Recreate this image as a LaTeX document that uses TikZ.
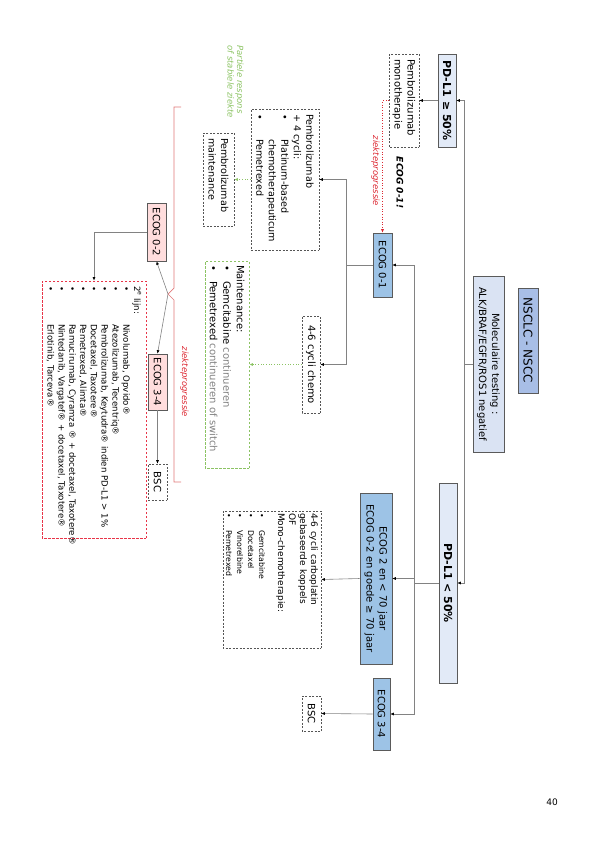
\documentclass[tikz,border=0pt]{standalone}
\usepackage{fontspec}
\setmainfont{DejaVu Sans}
\usetikzlibrary{arrows.meta}
\definecolor{nsclcfill}{RGB}{168,190,230}
\definecolor{molfill}{RGB}{218,227,243}
\definecolor{pdfill}{RGB}{226,234,247}
\definecolor{ecogblue}{RGB}{157,195,230}
\definecolor{pinkfill}{RGB}{255,221,221}
\definecolor{boxgray}{RGB}{90,90,90}
\definecolor{dashgray}{RGB}{85,85,85}
\definecolor{conngray}{RGB}{130,130,130}
\definecolor{reddash}{RGB}{232,52,72}
\definecolor{greendash}{RGB}{140,195,100}
\definecolor{redlab}{RGB}{220,40,50}
\definecolor{bracered}{RGB}{225,120,120}
\definecolor{greytext}{RGB}{130,130,130}
\newcommand\myfA{\fontsize{10}{13}\selectfont}
\newcommand\myfB{\fontsize{9.6}{12.5}\selectfont}
\newcommand\myfC{\fontsize{8.6}{10.8}\selectfont}
\newcommand\myfD{\fontsize{9}{11}\selectfont}
\newcommand\myfE{\fontsize{7.8}{11}\selectfont}
\newcommand\mybul[1]{\makebox[#1][l]{•}}
\newcommand\myli[2]{\mbox{\mybul{#1}#2}}
\begin{document}
\begin{tikzpicture}[x=1pt,y=-1pt,
  rot/.style={rotate=-90, inner sep=0pt},
  bx/.style n args={2}{rot, minimum width=#1pt, minimum height=#2pt},
  solidbox/.style={draw=boxgray, line width=0.6pt},
  dashbox/.style={draw=dashgray, dash pattern=on 2pt off 1.5pt, line width=0.6pt, fill=white},
  reddashbox/.style={draw=reddash, dash pattern=on 2.5pt off 1.5pt, line width=0.7pt, fill=white},
  greendashbox/.style={draw=greendash, dash pattern=on 2.5pt off 1.5pt, line width=0.7pt, fill=white},
  conn/.style={draw=conngray, line width=0.6pt},
  arrk/.style={-{Latex[length=3.5pt,width=3pt,color=black]}},
  reddot/.style={draw=redlab, dotted, line width=0.6pt, -{Latex[length=3.5pt,width=3pt,color=redlab]}},
  greendot/.style={draw=greendash, dotted, line width=0.7pt, -{Latex[length=3.5pt,width=3pt,color=greendash]}}
]
\useasboundingbox (0,0) rectangle (597,846);

% top level
\node[bx={105}{20}, solidbox, fill=nsclcfill, font=\fontsize{12}{14}\selectfont] (nsclc) at (528,340.5) {NSCLC - NSCC};
\node[bx={176}{31}, solidbox, fill=molfill, font=\myfA, align=center] (mol) at (488.5,364) {Moleculaire testing :\\ALK/BRAF/EGFR/ROS1 negatief};
\node[bx={93}{18}, solidbox, fill=pdfill, font=\fontsize{11}{13}\selectfont\bfseries] (pd50) at (447,100.5) {PD-L1 ≥ 50\%};
\node[bx={200}{18}, solidbox, fill=pdfill, font=\fontsize{11}{13}\selectfont\bfseries] (pdlow) at (448,583) {PD-L1 < 50\%};

% PD-L1 >= 50 branch
\node[bx={93}{30}, dashbox, font=\myfA, align=left, text width=83pt] (mono) at (404,100.5) {Pembrolizumab\\monotherapie};
\node[bx={64}{19}, solidbox, fill=ecogblue, font=\myfA] (ecog01) at (382.5,265) {ECOG 0-1};
\node[bx={141}{68}, dashbox, font=\myfB, align=left, text width=131pt] (pemb4) at (285,179.5) {Pembrolizumab\\+ 4 cycli:\\\myli{25pt}{Platinum-based}\\\mbox{\hspace*{25pt}chemotherapeuticum}\\\myli{25pt}{Pemetrexed}};
\node[bx={97}{18}, dashbox, font=\myfA] (chemo) at (311,364.5) {4-6 cycli chemo};
\node[bx={93}{31}, dashbox, font=\myfB, align=left, text width=83pt] (pmaint) at (218.5,179.5) {Pembrolizumab\\maintenance};
\node[bx={207}{44}, greendashbox, font=\fontsize{10}{13.5}\selectfont, align=left, text width=199pt] (maint) at (227,364.5) {Maintenance:\\\myli{16pt}{Gemcitabine {\color{greytext}continueren}}\\\myli{16pt}{Pemetrexed {\color{greytext}continueren of switch}}};

% PD-L1 < 50 branch
\node[bx={171}{32}, solidbox, fill=ecogblue, font=\myfA, align=center] (ecog2) at (376,578.5) {ECOG 2 en < 70 jaar\\ECOG 0-2 en goede ≥ 70 jaar};
\node[bx={72}{17}, solidbox, fill=ecogblue, font=\myfA] (ecog34r) at (381.5,714) {ECOG 3-4};
\node[bx={35}{19}, dashbox, font=\myfA] (bscr) at (311.5,713.5) {BSC};
\node[bx={137}{98}, dashbox, align=left, text width=133pt] (cyc) at (272,579.5) {\myfD 4-6 cycli carboplatin\par gebaseerde koppels\par OF\par Mono-chemotherapie:\par\vspace{8pt}\myfE\myli{17pt}{Gemcitabine}\par\myli{17pt}{Docetaxel}\par\myli{17pt}{Vinorelbine}\par\myli{17pt}{Pemetrexed}\par};

% progression part
\node[bx={58}{19}, solidbox, fill=pinkfill, font=\myfA] (ecog02) at (156.5,232) {ECOG 0-2};
\node[bx={56}{19}, solidbox, fill=pinkfill, font=\myfA] (ecog34l) at (157.5,382) {ECOG 3-4};
\node[bx={36}{19}, dashbox, font=\myfA] (bscl) at (157.5,482) {BSC};
\node[bx={257}{104}, reddashbox, font=\myfC, align=left, text width=247pt] (redbox) at (94,409.5) {2\textsuperscript{e} lijn:\\
\myli{38pt}{Nivolumab, Opvido®}\\
\myli{38pt}{Atezolizumab, Tecentriq®}\\
\myli{38pt}{Pembrolizumab, Keytudra® indien PD-L1 > 1\%}\\
\myli{38pt}{Docetaxel, Taxotere®}\\
\myli{38pt}{Pemetrexed, Alimta®}\\
\myli{38pt}{Ramucirumab, Cyramza ® + docetaxel, Taxotere®}\\
\myli{38pt}{Nintedanib, Vargatef® + docetaxel, Taxotere®}\\
\myli{38pt}{Erlotinib, Tarceva®}};

% labels
\node[rot, font=\fontsize{8.5}{10}\selectfont\itshape, text=redlab] (zp1) at (375.5,171) {ziekteprogressie};
\node[rot, font=\fontsize{9}{11}\selectfont\bfseries\itshape] (warn) at (400,182.5) {ECOG 0-1!};
\node[rot, font=\fontsize{8.5}{9.5}\selectfont\itshape, text=greendash, align=left, anchor=west] (pr) at (235.5,45) {Partiele respons\\of stabiele ziekte};
\node[rot, font=\fontsize{8.5}{10}\selectfont\itshape, text=redlab] (zp2) at (184.5,382) {ziekteprogressie};
\node[font=\fontsize{9}{11}\selectfont] (pg) at (552,802) {40};

% connectors
\path (mol.south) ++(-8,0) coordinate (t1);
\draw[conn] (mol.south) -- (t1);
\draw[conn,arrk] (t1) |- (pd50.north);
\draw[conn,arrk] (t1) |- (pdlow.north);
\draw[conn,arrk] (pd50.south) -- (mono.north);
\draw[reddot] (mono.south) -- ++(-6,0) -| (ecog01.west);

\path (pdlow.south) ++(-24,0) coordinate (t2);
\draw[conn] (pdlow.south) -- (t2);
\draw[conn,arrk] (t2) |- (ecog01.north);
\draw[conn,arrk] (t2) |- (ecog34r.north);
\draw[conn,arrk] (ecog2.north -| t2) -- (ecog2.north);

\path (ecog01.south) ++(-26,0) coordinate (t3);
\draw[conn] (ecog01.south) -- (t3);
\draw[conn,arrk] (t3) |- (pemb4.north);
\draw[conn,arrk] (t3) |- (chemo.north);
\draw[greendot] (pemb4.south) -- (pmaint.north);
\draw[greendot] (chemo.south) -- (maint.north);
\draw[conn,arrk] (ecog2.south) -- (cyc.north);
\draw[conn,arrk] (ecog34r.south) -- (bscr.north);

% brace
\coordinate (tip) at (168,294);
\draw[draw=bracered, line width=0.7pt] (181,107) -- (174,107) -- (174,288) -- (tip) -- (174,300) -- (174,482) -- (181,482);
\draw[conn,arrk] (tip) -- (ecog02.east);
\draw[conn,arrk] (tip) -- (ecog34l.west);
\draw[conn,arrk] (ecog02.south) -| (redbox.west);
\draw[conn,arrk] (ecog34l.east) -- (bscl.west);
\end{tikzpicture}
\end{document}
